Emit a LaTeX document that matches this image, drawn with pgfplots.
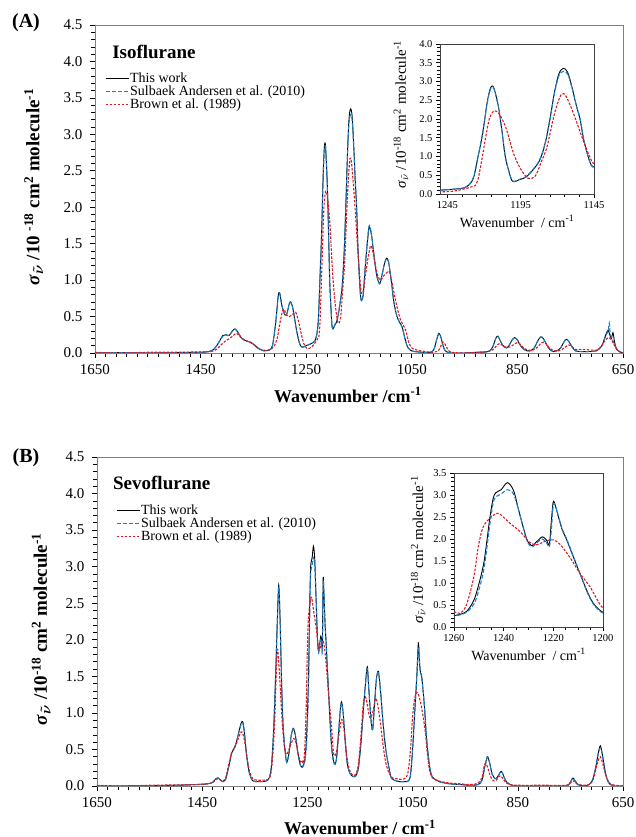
\documentclass[border=0pt]{standalone}
\usepackage{fontspec}
\setmainfont{Liberation Serif}
\usepackage{pgfplots}
\usepackage{pgfplotstable}
\pgfplotsset{compat=1.18}

\definecolor{swBlue}{RGB}{20,130,205}
\definecolor{brRed}{RGB}{220,25,35}

% ---------------- Isoflurane ----------------
\pgfplotstableread{
wn val
1650 0
1600 0.005
1550 0
1500 0.005
1450 0.01
1435 0.02
1425 0.05
1415 0.15
1408 0.24
1402 0.25
1396 0.24
1390 0.3
1385 0.33
1380 0.29
1372 0.2
1365 0.17
1356 0.15
1348 0.11
1340 0.06
1330 0.03
1320 0.04
1314 0.1
1308 0.4
1303 0.78
1300 0.82
1296 0.65
1290 0.52
1286 0.55
1282 0.68
1279 0.70
1275 0.6
1268 0.3
1262 0.12
1257 0.08
1250 0.10
1240 0.13
1234 0.16
1230 0.25
1227 0.45
1224 1.0
1221 1.6
1218 2.4
1216 2.78
1214.5 2.88
1213 2.8
1210 2.3
1207.5 1.6
1205.5 1.0
1203 0.6
1201 0.36
1199 0.33
1196 0.38
1191 0.46
1184 0.77
1181 1.0
1178 1.4
1175 2.0
1172 2.7
1169 3.2
1166 3.35
1163 3.25
1160 2.85
1157 2.35
1154.5 2.0
1152 1.45
1149 1.0
1147 0.78
1145 0.72
1142 0.8
1139 1.1
1135 1.45
1131 1.72
1128 1.68
1125 1.55
1121 1.3
1116 1.05
1111 0.95
1107 1.05
1102 1.22
1098 1.30
1094 1.25
1089 1.0
1084 0.7
1078 0.5
1073 0.42
1068 0.35
1063 0.2
1058 0.08
1053 0.04
1045 0.02
1030 0.01
1015 0.01
1008 0.05
1003 0.18
999 0.27
995 0.22
990 0.08
985 0.02
975 0.0
950 0
925 0.01
905 0.02
897 0.08
891 0.2
887 0.23
882 0.16
877 0.1
871 0.07
866 0.1
860 0.18
855 0.21
850 0.18
844 0.1
838 0.05
832 0.03
826 0.03
818 0.07
812 0.16
806 0.22
801 0.2
795 0.12
789 0.05
782 0.02
775 0.03
768 0.07
762 0.15
757 0.19
752 0.15
746 0.08
740 0.03
730 0.02
715 0.02
700 0.03
690 0.1
685 0.2
681 0.28
678 0.31
675 0.25
672 0.2
669 0.28
666 0.15
662 0.05
657 0.02
650 0
}\isoThis

\pgfplotstableread{
wn val
1650 0
1600 0.005
1550 0
1500 0.005
1450 0.01
1435 0.02
1425 0.05
1415 0.15
1408 0.23
1402 0.25
1396 0.24
1390 0.3
1385 0.33
1380 0.29
1372 0.2
1365 0.17
1356 0.15
1348 0.11
1340 0.06
1330 0.03
1320 0.04
1314 0.1
1308 0.4
1303 0.77
1300 0.81
1296 0.65
1290 0.52
1286 0.55
1282 0.68
1279 0.69
1275 0.6
1268 0.3
1262 0.12
1257 0.08
1250 0.10
1240 0.13
1234 0.16
1230 0.25
1227 0.47
1224 1.02
1221 1.6
1218 2.38
1216 2.75
1214.5 2.84
1213 2.78
1210 2.3
1207.5 1.6
1205.5 1.0
1203 0.6
1201 0.37
1199 0.34
1196 0.39
1191 0.47
1184 0.78
1181 1.0
1178 1.4
1175 2.0
1172 2.68
1169 3.15
1166 3.27
1163 3.2
1160 2.83
1157 2.35
1154.5 2.0
1152 1.45
1149 1.0
1147 0.77
1145 0.71
1142 0.8
1139 1.1
1135 1.47
1131 1.74
1128 1.7
1125 1.55
1121 1.3
1116 1.05
1111 0.95
1107 1.05
1102 1.22
1098 1.29
1094 1.25
1089 1.0
1084 0.7
1078 0.5
1073 0.42
1068 0.35
1063 0.2
1058 0.08
1053 0.04
1045 0.02
1030 0.01
1015 0.01
1008 0.05
1003 0.18
999 0.26
995 0.22
990 0.08
985 0.02
975 0.0
950 0
925 0.01
905 0.02
897 0.08
891 0.2
887 0.23
882 0.16
877 0.1
871 0.07
866 0.1
860 0.18
855 0.21
850 0.18
844 0.1
838 0.05
832 0.03
826 0.03
818 0.07
812 0.16
806 0.22
801 0.2
795 0.12
789 0.05
782 0.02
775 0.03
768 0.07
762 0.15
757 0.19
752 0.15
746 0.08
740 0.03
730 0.02
715 0.02
700 0.03
690 0.1
685 0.19
681 0.26
678 0.3
676 0.41
674 0.25
671 0.2
668 0.15
662 0.05
657 0.02
650 0
}\isoSulb

\pgfplotstableread{
wn val
1650 0.01
1600 0.0
1550 0.01
1500 0.01
1450 0.015
1430 0.02
1420 0.05
1410 0.12
1402 0.17
1395 0.2
1388 0.24
1382 0.27
1376 0.23
1368 0.18
1358 0.15
1350 0.12
1342 0.07
1332 0.04
1322 0.04
1312 0.08
1305 0.2
1300 0.4
1295 0.57
1292 0.6
1287 0.52
1282 0.5
1276 0.53
1270 0.56
1265 0.45
1259 0.25
1254 0.12
1248 0.06
1240 0.08
1232 0.15
1228 0.2
1226 0.22
1224 0.4
1222 0.8
1220 1.25
1218 1.7
1216 2.05
1213 2.22
1210 2.15
1207 1.95
1204.5 1.7
1200 1.1
1195.5 0.7
1190 0.42
1185 0.48
1180.5 0.9
1177 1.26
1173 1.97
1170 2.4
1167 2.67
1164 2.6
1159 2.15
1152.5 1.44
1148 1.0
1145.5 0.82
1142 0.85
1138 1.05
1133 1.3
1128 1.47
1124 1.4
1119 1.2
1114 1.05
1109 1.0
1104 1.05
1098 1.1
1093 1.12
1089 1.02
1083 0.8
1077 0.6
1071 0.45
1066 0.38
1061 0.3
1056 0.15
1050 0.07
1040 0.04
1025 0.02
1010 0.01
1000 0.03
996 0.08
991 0.15
987 0.12
982 0.05
975 0.01
950 0.0
920 0.01
900 0.03
893 0.07
888 0.11
883 0.13
878 0.1
872 0.08
865 0.08
858 0.11
851 0.14
845 0.12
838 0.07
830 0.04
820 0.04
812 0.08
806 0.13
800 0.15
794 0.11
788 0.06
780 0.03
772 0.03
765 0.05
758 0.09
752 0.11
746 0.08
740 0.05
725 0.05
710 0.04
700 0.04
692 0.08
686 0.15
680 0.2
676 0.21
671 0.17
666 0.1
660 0.04
655 0.01
650 0
}\isoBrown

% ---------------- Sevoflurane ----------------
\pgfplotstableread{
wn val
1650 0
1600 0
1550 0.005
1500 0.01
1460 0.02
1440 0.03
1430 0.05
1424 0.1
1420 0.11
1415 0.08
1410 0.06
1405 0.1
1400 0.25
1394 0.45
1389 0.52
1385 0.6
1380 0.75
1376 0.86
1373 0.88
1370 0.75
1366 0.45
1361 0.2
1355 0.08
1348 0.06
1338 0.06
1328 0.07
1322 0.12
1318 0.3
1314 0.8
1310 1.6
1307 2.3
1304.5 2.75
1302 2.3
1299 1.4
1296 0.8
1292 0.45
1289 0.33
1285 0.45
1281 0.68
1277 0.79
1273 0.7
1268 0.45
1264 0.3
1261 0.26
1258 0.28
1255 0.35
1252.5 0.55
1251 0.77
1248 1.45
1245.5 2.5
1243.8 3.0
1241 3.12
1238.5 3.28
1236 3.1
1233.7 2.6
1230.7 2.0
1228.7 1.85
1226.5 1.95
1224.4 2.05
1222.8 1.98
1221.6 1.88
1220.8 2.4
1220 2.85
1219 2.72
1216.6 2.24
1214.6 1.98
1212 1.6
1209.3 1.22
1206.6 0.84
1203.9 0.54
1200.5 0.35
1197 0.3
1194 0.42
1190 0.8
1187 1.08
1185 1.15
1182 1.0
1178 0.6
1174 0.3
1169 0.17
1163 0.13
1158 0.14
1153 0.25
1148 0.6
1143 1.1
1139 1.45
1136 1.63
1133 1.3
1129 0.9
1126 0.77
1123 1.05
1119 1.45
1115 1.57
1111 1.3
1106 0.85
1101 0.5
1096 0.29
1091 0.12
1085 0.08
1075 0.06
1065 0.06
1058 0.07
1054 0.15
1050 0.5
1046 1.0
1042 1.5
1039 1.96
1037 1.7
1035 1.55
1033 1.52
1030 1.3
1027 1.04
1024 0.7
1020 0.4
1016 0.2
1012 0.12
1005 0.08
995 0.05
980 0.03
960 0.02
940 0.01
925 0.02
918 0.08
913 0.25
908 0.4
904 0.33
899 0.17
893 0.1
889 0.12
884 0.18
881 0.2
877 0.14
872 0.06
865 0.02
850 0
800 0
760 0
752 0.03
748 0.08
745 0.11
741 0.07
736 0.02
725 0
715 0.02
708 0.08
702 0.25
697 0.45
693 0.55
689 0.42
684 0.2
679 0.07
674 0.02
665 0
650 0
}\sevoThis

\pgfplotstableread{
wn val
1650 0
1600 0
1550 0.005
1500 0.01
1460 0.02
1440 0.03
1430 0.05
1424 0.1
1420 0.11
1415 0.08
1410 0.06
1405 0.1
1400 0.25
1394 0.45
1389 0.52
1385 0.6
1380 0.74
1376 0.84
1373 0.86
1370 0.75
1366 0.45
1361 0.2
1355 0.08
1348 0.06
1338 0.06
1328 0.07
1322 0.12
1318 0.3
1314 0.8
1310 1.6
1307 2.28
1304.5 2.7
1302 2.3
1299 1.4
1296 0.8
1292 0.45
1289 0.32
1285 0.45
1281 0.68
1277 0.78
1273 0.7
1268 0.45
1264 0.3
1261 0.25
1258 0.27
1255 0.33
1252.5 0.48
1251 0.65
1248 1.3
1245.5 2.35
1243.8 2.9
1241 3.02
1238.5 3.12
1236 3.02
1233.7 2.6
1230.7 1.98
1228.7 1.82
1226.5 1.92
1224.4 2.0
1222.8 1.92
1221.6 1.82
1220.8 2.2
1220 2.78
1219 2.72
1216.6 2.26
1214.6 2.0
1212 1.62
1209.3 1.22
1206.6 0.82
1203.9 0.52
1200.5 0.33
1197 0.3
1194 0.42
1190 0.8
1187 1.06
1185 1.12
1182 1.0
1178 0.6
1174 0.3
1169 0.17
1163 0.13
1158 0.14
1153 0.25
1148 0.6
1143 1.1
1139 1.43
1136 1.6
1133 1.3
1129 0.9
1126 0.76
1123 1.05
1119 1.45
1115 1.55
1111 1.3
1106 0.85
1101 0.5
1096 0.29
1091 0.12
1085 0.08
1075 0.06
1065 0.06
1058 0.07
1054 0.15
1050 0.5
1046 1.0
1042 1.5
1039 1.9
1037 1.72
1035 1.55
1033 1.5
1030 1.3
1027 1.04
1024 0.7
1020 0.4
1016 0.2
1012 0.12
1005 0.08
995 0.05
980 0.03
960 0.02
940 0.01
925 0.02
918 0.08
913 0.25
908 0.39
904 0.33
899 0.17
893 0.1
889 0.12
884 0.18
881 0.2
877 0.14
872 0.06
865 0.02
850 0
800 0
760 0
752 0.03
748 0.08
745 0.11
741 0.07
736 0.02
725 0
715 0.02
708 0.08
702 0.25
697 0.44
693 0.52
689 0.42
684 0.2
679 0.07
674 0.02
665 0
650 0
}\sevoSulb

\pgfplotstableread{
wn val
1650 0.01
1600 0.0
1550 0.01
1500 0.015
1460 0.02
1440 0.03
1430 0.05
1424 0.09
1420 0.1
1415 0.08
1410 0.07
1405 0.12
1400 0.28
1394 0.46
1390 0.5
1385 0.58
1380 0.68
1376 0.74
1373 0.72
1369 0.6
1365 0.4
1360 0.2
1354 0.1
1345 0.08
1335 0.08
1325 0.09
1320 0.15
1316 0.4
1312 0.9
1309 1.6
1307 1.87
1305 1.75
1302 1.4
1298 0.9
1294 0.55
1290 0.43
1286 0.48
1281 0.58
1276 0.65
1272 0.6
1267 0.42
1263 0.33
1260 0.35
1257.6 0.31
1255 0.5
1252 1.14
1250.2 1.83
1248.2 2.28
1245 2.5
1242 2.58
1237.5 2.36
1233.4 2.17
1229.4 1.92
1226.7 1.87
1222.7 1.96
1220 1.98
1217.3 1.88
1213.3 1.58
1209.3 1.22
1205.3 0.92
1200.5 0.46
1197 0.42
1194 0.5
1190 0.7
1186 0.88
1183 0.9
1179 0.7
1175 0.4
1170 0.22
1164 0.15
1158 0.16
1153 0.3
1148 0.7
1144 1.1
1140 1.22
1137 1.15
1133 0.98
1130 0.93
1126 1.0
1122 1.15
1119.5 1.2
1116 1.1
1111 0.85
1106 0.55
1101 0.32
1095 0.18
1088 0.11
1080 0.1
1070 0.09
1062 0.12
1058 0.22
1054 0.5
1050 0.95
1046 1.2
1042 1.28
1039 1.25
1035 1.15
1030 0.95
1026 0.75
1022 0.45
1018 0.22
1013 0.12
1005 0.08
995 0.06
980 0.04
960 0.03
940 0.02
925 0.04
918 0.12
914 0.27
911 0.31
907 0.25
902 0.13
896 0.07
891 0.08
886 0.13
883 0.14
878 0.1
872 0.04
865 0.02
850 0.01
800 0.01
760 0.01
752 0.03
747 0.06
744 0.07
740 0.04
735 0.02
720 0.01
712 0.03
706 0.1
701 0.25
696 0.37
693 0.4
689 0.32
684 0.18
679 0.08
674 0.03
665 0.01
650 0
}\sevoBrown

\pgfplotsset{
  spec/.style={
    x dir=reverse, scale only axis, anchor=south west,
    axis line style={gray}, tick align=outside,
    xtick pos=bottom, ytick pos=left,
    /pgf/number format/assume math mode=true,
    /pgf/number format/1000 sep={},
    yticklabel style={/pgf/number format/fixed,
      /pgf/number format/fixed zerofill, /pgf/number format/precision=1},
    every tick/.style={black, line width=0.6pt},
    major tick length=5pt, minor tick length=4pt,
  },
  mainax/.style={spec,
    xmin=650, xmax=1650, ymin=0, ymax=4.5,
    xtick={650,850,1050,1250,1450,1650}, minor x tick num=9,
    ytick={0,0.5,1,1.5,2,2.5,3,3.5,4,4.5}, minor y tick num=4,
    tick label style={font=\fontsize{15}{18}\selectfont},
    yticklabel style={xshift=-4pt},
    xticklabel style={yshift=-3pt},
    xlabel style={font=\fontsize{18}{21}\selectfont},
    ylabel style={font=\fontsize{19}{22}\selectfont},
    legend cell align=left,
    legend image code/.code={\draw[#1] (0pt,0pt) -- (23pt,0pt);},
  },
  insetax/.style={spec,
    axis line style={black!75},
    tick label style={font=\fontsize{10.5}{12}\selectfont},
    xlabel style={font=\fontsize{14}{16}\selectfont},
    ylabel style={font=\fontsize{15}{17}\selectfont},
    minor y tick num=4,
    major tick length=4pt, minor tick length=3pt,
  },
  thiswork/.style={black, line width=0.9pt, smooth},
  sulbaek/.style={swBlue, line width=1.1pt, dash pattern=on 4pt off 2pt, smooth},
  brown/.style={brRed, line width=1.1pt, dash pattern=on 2.5pt off 1.5pt, smooth},
}

\begin{document}
\begin{tikzpicture}
\useasboundingbox (0,0) rectangle (636pt,837pt);

% ===== (A) Isoflurane =====
\begin{axis}[mainax, at={(95pt,484pt)}, width=528pt, height=328pt,
  xlabel={\textbf{Wavenumber /cm\textsuperscript{-1}}},
  xlabel style={at={(axis description cs:0.479,-0.128)}, anchor=center},
  ylabel={\textbf{\textit{σ}}{\boldmath$_{\tilde{\nu}}$}\textbf{ /10 \textsuperscript{-18} cm\textsuperscript{2} molecule\textsuperscript{-1}}},
  ylabel style={at={(axis description cs:-0.116,0.506)}, anchor=center},
  legend style={at={(axis description cs:0.013,0.865)}, anchor=north west,
    draw=none, fill=none, font=\fontsize{14}{16}\selectfont,
    row sep=0pt, nodes={inner sep=1pt}},
]
\addplot[thiswork] table {\isoThis};
\addlegendentry{This work}
\addplot[sulbaek] table {\isoSulb};
\addlegendentry{Sulbaek Andersen et al. (2010)}
\addplot[brown] table {\isoBrown};
\addlegendentry{Brown et al. (1989)}
\node[anchor=west, font=\bfseries\fontsize{19}{22}\selectfont] at (axis description cs:0.026,0.918) {Isoflurane};
\end{axis}

\begin{axis}[insetax, at={(440pt,643pt)}, width=154pt, height=150pt,
  xmin=1145, xmax=1250, ymin=0, ymax=4,
  xtick={1145,1195,1245}, minor x tick num=4,
  ytick={0,0.5,1,1.5,2,2.5,3,3.5,4},
  xlabel={Wavenumber~ / cm\textsuperscript{-1}},
  ylabel={\textit{σ}$_{\tilde{\nu}}$ /10\textsuperscript{-18} cm\textsuperscript{2} molecule\textsuperscript{-1}},
  ylabel style={at={(axis description cs:-0.253,0.53)}, anchor=center},
]
\addplot[thiswork] table {\isoThis};
\addplot[sulbaek] table {\isoSulb};
\addplot[brown] table {\isoBrown};
\end{axis}

% ===== (B) Sevoflurane =====
\begin{axis}[mainax, at={(97pt,51pt)}, width=526pt, height=329pt,
  xlabel={\textbf{Wavenumber / cm\textsuperscript{-1}}},
  xlabel style={at={(axis description cs:0.5,-0.125)}, anchor=center},
  ylabel={\textbf{\textit{σ}}{\boldmath$_{\tilde{\nu}}$}\textbf{ /10\textsuperscript{-18} cm\textsuperscript{2} molecule\textsuperscript{-1}}},
  ylabel style={at={(axis description cs:-0.106,0.477)}, anchor=center},
  legend style={at={(axis description cs:0.03,0.865)}, anchor=north west,
    draw=none, fill=none, font=\fontsize{14}{16}\selectfont,
    row sep=0pt, nodes={inner sep=1pt}},
]
\addplot[thiswork] table {\sevoThis};
\addlegendentry{This work}
\addplot[sulbaek] table {\sevoSulb};
\addlegendentry{Sulbaek Andersen et al. (2010)}
\addplot[brown] table {\sevoBrown};
\addlegendentry{Brown et al. (1989)}
\node[anchor=west, font=\bfseries\fontsize{19}{22}\selectfont] at (axis description cs:0.024,0.921) {Sevoflurane};
\end{axis}

\begin{axis}[insetax, at={(454pt,210pt)}, width=149pt, height=154pt,
  xmin=1200, xmax=1260, ymin=0, ymax=3.5,
  xtick={1200,1220,1240,1260}, minor x tick num=3,
  ytick={0,0.5,1,1.5,2,2.5,3,3.5},
  xlabel={Wavenumber~ / cm\textsuperscript{-1}},
  ylabel={\textit{σ}$_{\tilde{\nu}}$ /10\textsuperscript{-18} cm\textsuperscript{2} molecule\textsuperscript{-1}},
  ylabel style={at={(axis description cs:-0.24,0.5)}, anchor=center},
]
\addplot[thiswork] table {\sevoThis};
\addplot[sulbaek] table {\sevoSulb};
\addplot[brown] table {\sevoBrown};
\end{axis}

\node[font=\bfseries\fontsize{20}{22}\selectfont] at (26pt,814pt) {(A)};
\node[font=\bfseries\fontsize{20}{22}\selectfont] at (26pt,379pt) {(B)};
\end{tikzpicture}
\end{document}
